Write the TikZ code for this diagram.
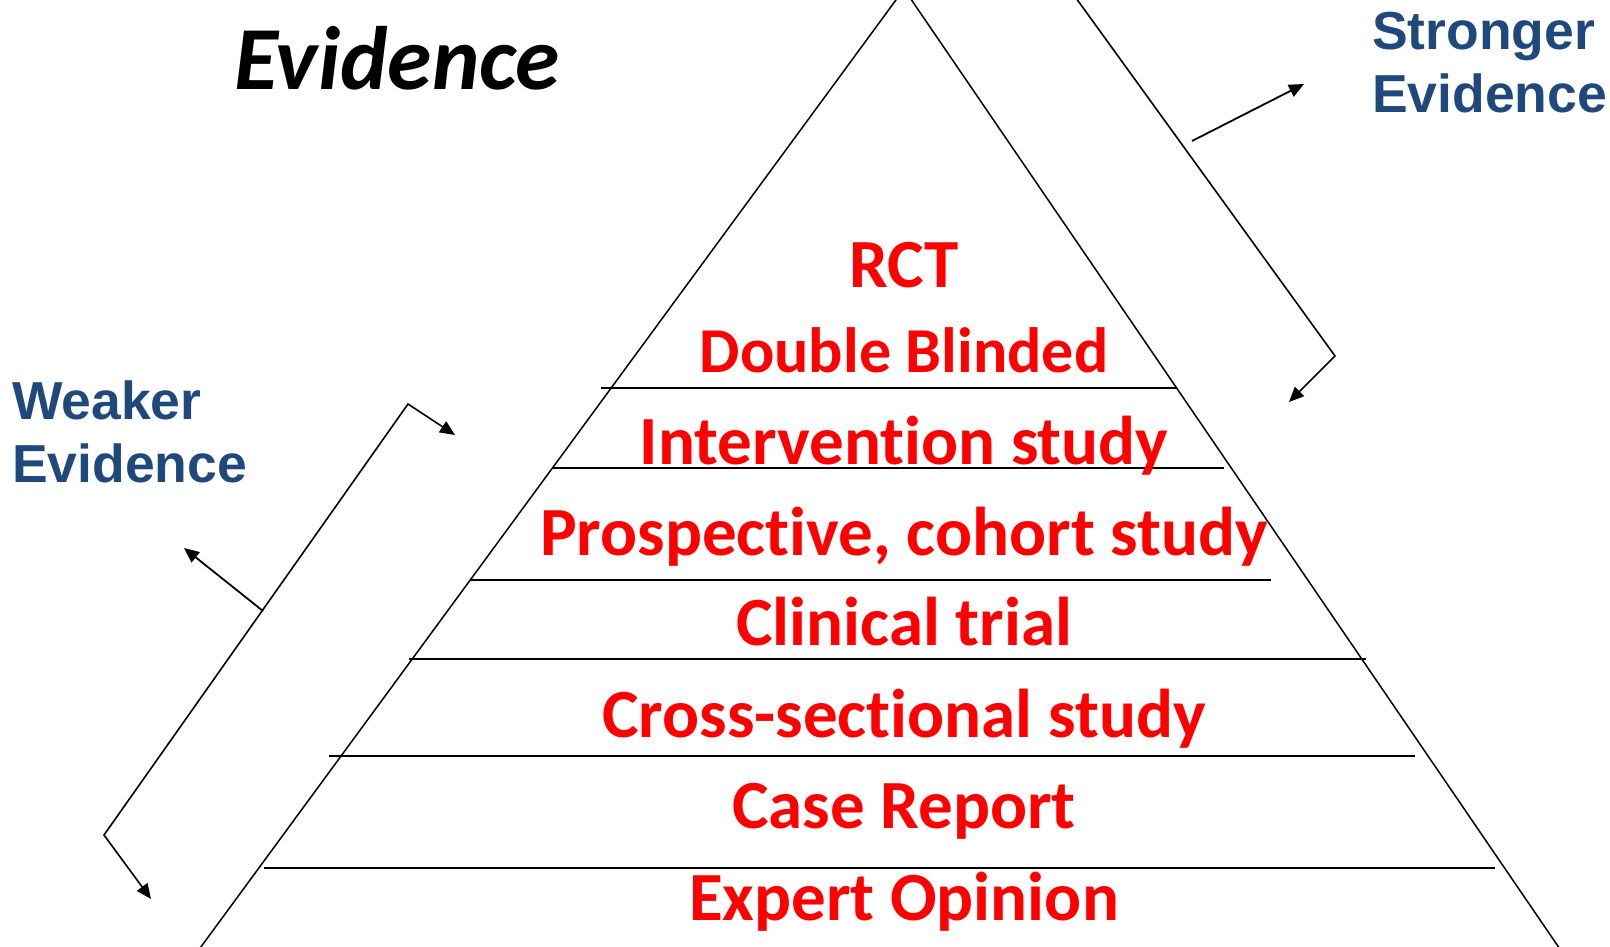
\documentclass[tikz,border=0pt]{standalone}
\usepackage{fontspec}
\setmainfont{Carlito}[Ligatures={NoCommon,NoRequired,NoContextual}]
\newfontfamily\labelfont{Liberation Sans}
\usetikzlibrary{arrows.meta}

\definecolor{evblue}{RGB}{31,73,125}
\definecolor{evred}{RGB}{255,0,0}

\tikzset{
  edge/.style={line width=1.5pt, black},
  tier/.style={line width=2pt, black},
  bracket/.style={line width=1.6pt, black, line join=miter},
  pointer/.style={line width=1.8pt, black, -{Triangle[length=15pt,width=13pt]}},
  level/.style={anchor=base, inner sep=0pt, text=evred,
    font=\fontsize{69}{72}\selectfont\bfseries},
  sidelabel/.style={anchor=base west, inner sep=0pt, text=evblue,
    font=\labelfont\fontsize{53.5}{64}\selectfont\bfseries},
}

\begin{document}
\begin{tikzpicture}[x=1pt,y=-1pt]
  \useasboundingbox (0,0) rectangle (1610,947);
  \clip (0,0) rectangle (1610,947);

  % pyramid outline
  \coordinate (apex) at (904,-11);
  \coordinate (baseL) at (195,955);
  \coordinate (baseR) at (1564,955);
  \draw[edge] (baseL) -- (apex) -- (baseR);

  % tier separators
  \coordinate (t1a) at (601,388);  \coordinate (t1b) at (1176,388);
  \coordinate (t2a) at (552,468);  \coordinate (t2b) at (1224,468);
  \coordinate (t3a) at (471,580);  \coordinate (t3b) at (1271,580);
  \coordinate (t4a) at (409,659);  \coordinate (t4b) at (1366,659);
  \coordinate (t5a) at (329,756);  \coordinate (t5b) at (1415,756);
  \coordinate (t6a) at (264,868);  \coordinate (t6b) at (1495,868);
  \foreach \i in {1,...,6} \draw[tier] (t\i a) -- (t\i b);

  % levels of evidence
  \node[level] (rct)    at (904,287) {RCT};
  \node[level, font=\fontsize{64}{70}\selectfont\bfseries] (dbl) at (904,372) {Double Blinded};
  \node[level] (interv) at (904,464) {Intervention study};
  \node[level] (prosp)  at (904,555) {Prospective, cohort study};
  \node[level] (clin)   at (904,645) {Clinical trial};
  \node[level] (cross)  at (904,737) {Cross-sectional study};
  \node[level] (casrep) at (904,828) {Case Report};
  \node[level] (expert) at (904,920) {Expert Opinion};

  % heading
  \node[anchor=base west, inner sep=0pt,
        font=\fontsize{90}{96}\selectfont\bfseries\itshape] (title) at (234,90) {Evidence};

  % side labels
  \node[sidelabel] (strong1) at (1372,50) {Stronger};
  \node[sidelabel] (strong2) at (1372,113) {Evidence};
  \node[sidelabel] (weak1) at (12,419) {Weaker};
  \node[sidelabel] (weak2) at (12,482) {Evidence};

  % right bracket (towards stronger evidence)
  \coordinate (rTop) at (1076,-2);
  \coordinate (rCorner) at (1335,356);
  \coordinate (rTip) at (1289,402);
  \draw[bracket, -{Triangle[length=15pt,width=13pt]}] (rTop) -- (rCorner) -- (rTip);
  \coordinate (rFrom) at (1192,141);
  \coordinate (rTo) at (1304,84);
  \draw[pointer] (rFrom) -- (rTo);

  % left bracket (towards weaker evidence)
  \coordinate (lTopTip) at (455,435);
  \coordinate (lTop) at (408,404);
  \coordinate (lBot) at (104,835);
  \coordinate (lBotTip) at (151,899);
  \draw[bracket, {Triangle[length=15pt,width=13pt]}-{Triangle[length=15pt,width=13pt]}]
    (lTopTip) -- (lTop) -- (lBot) -- (lBotTip);
  \coordinate (lFrom) at (263,611);
  \coordinate (lTo) at (184,548);
  \draw[pointer] (lFrom) -- (lTo);
\end{tikzpicture}
\end{document}
